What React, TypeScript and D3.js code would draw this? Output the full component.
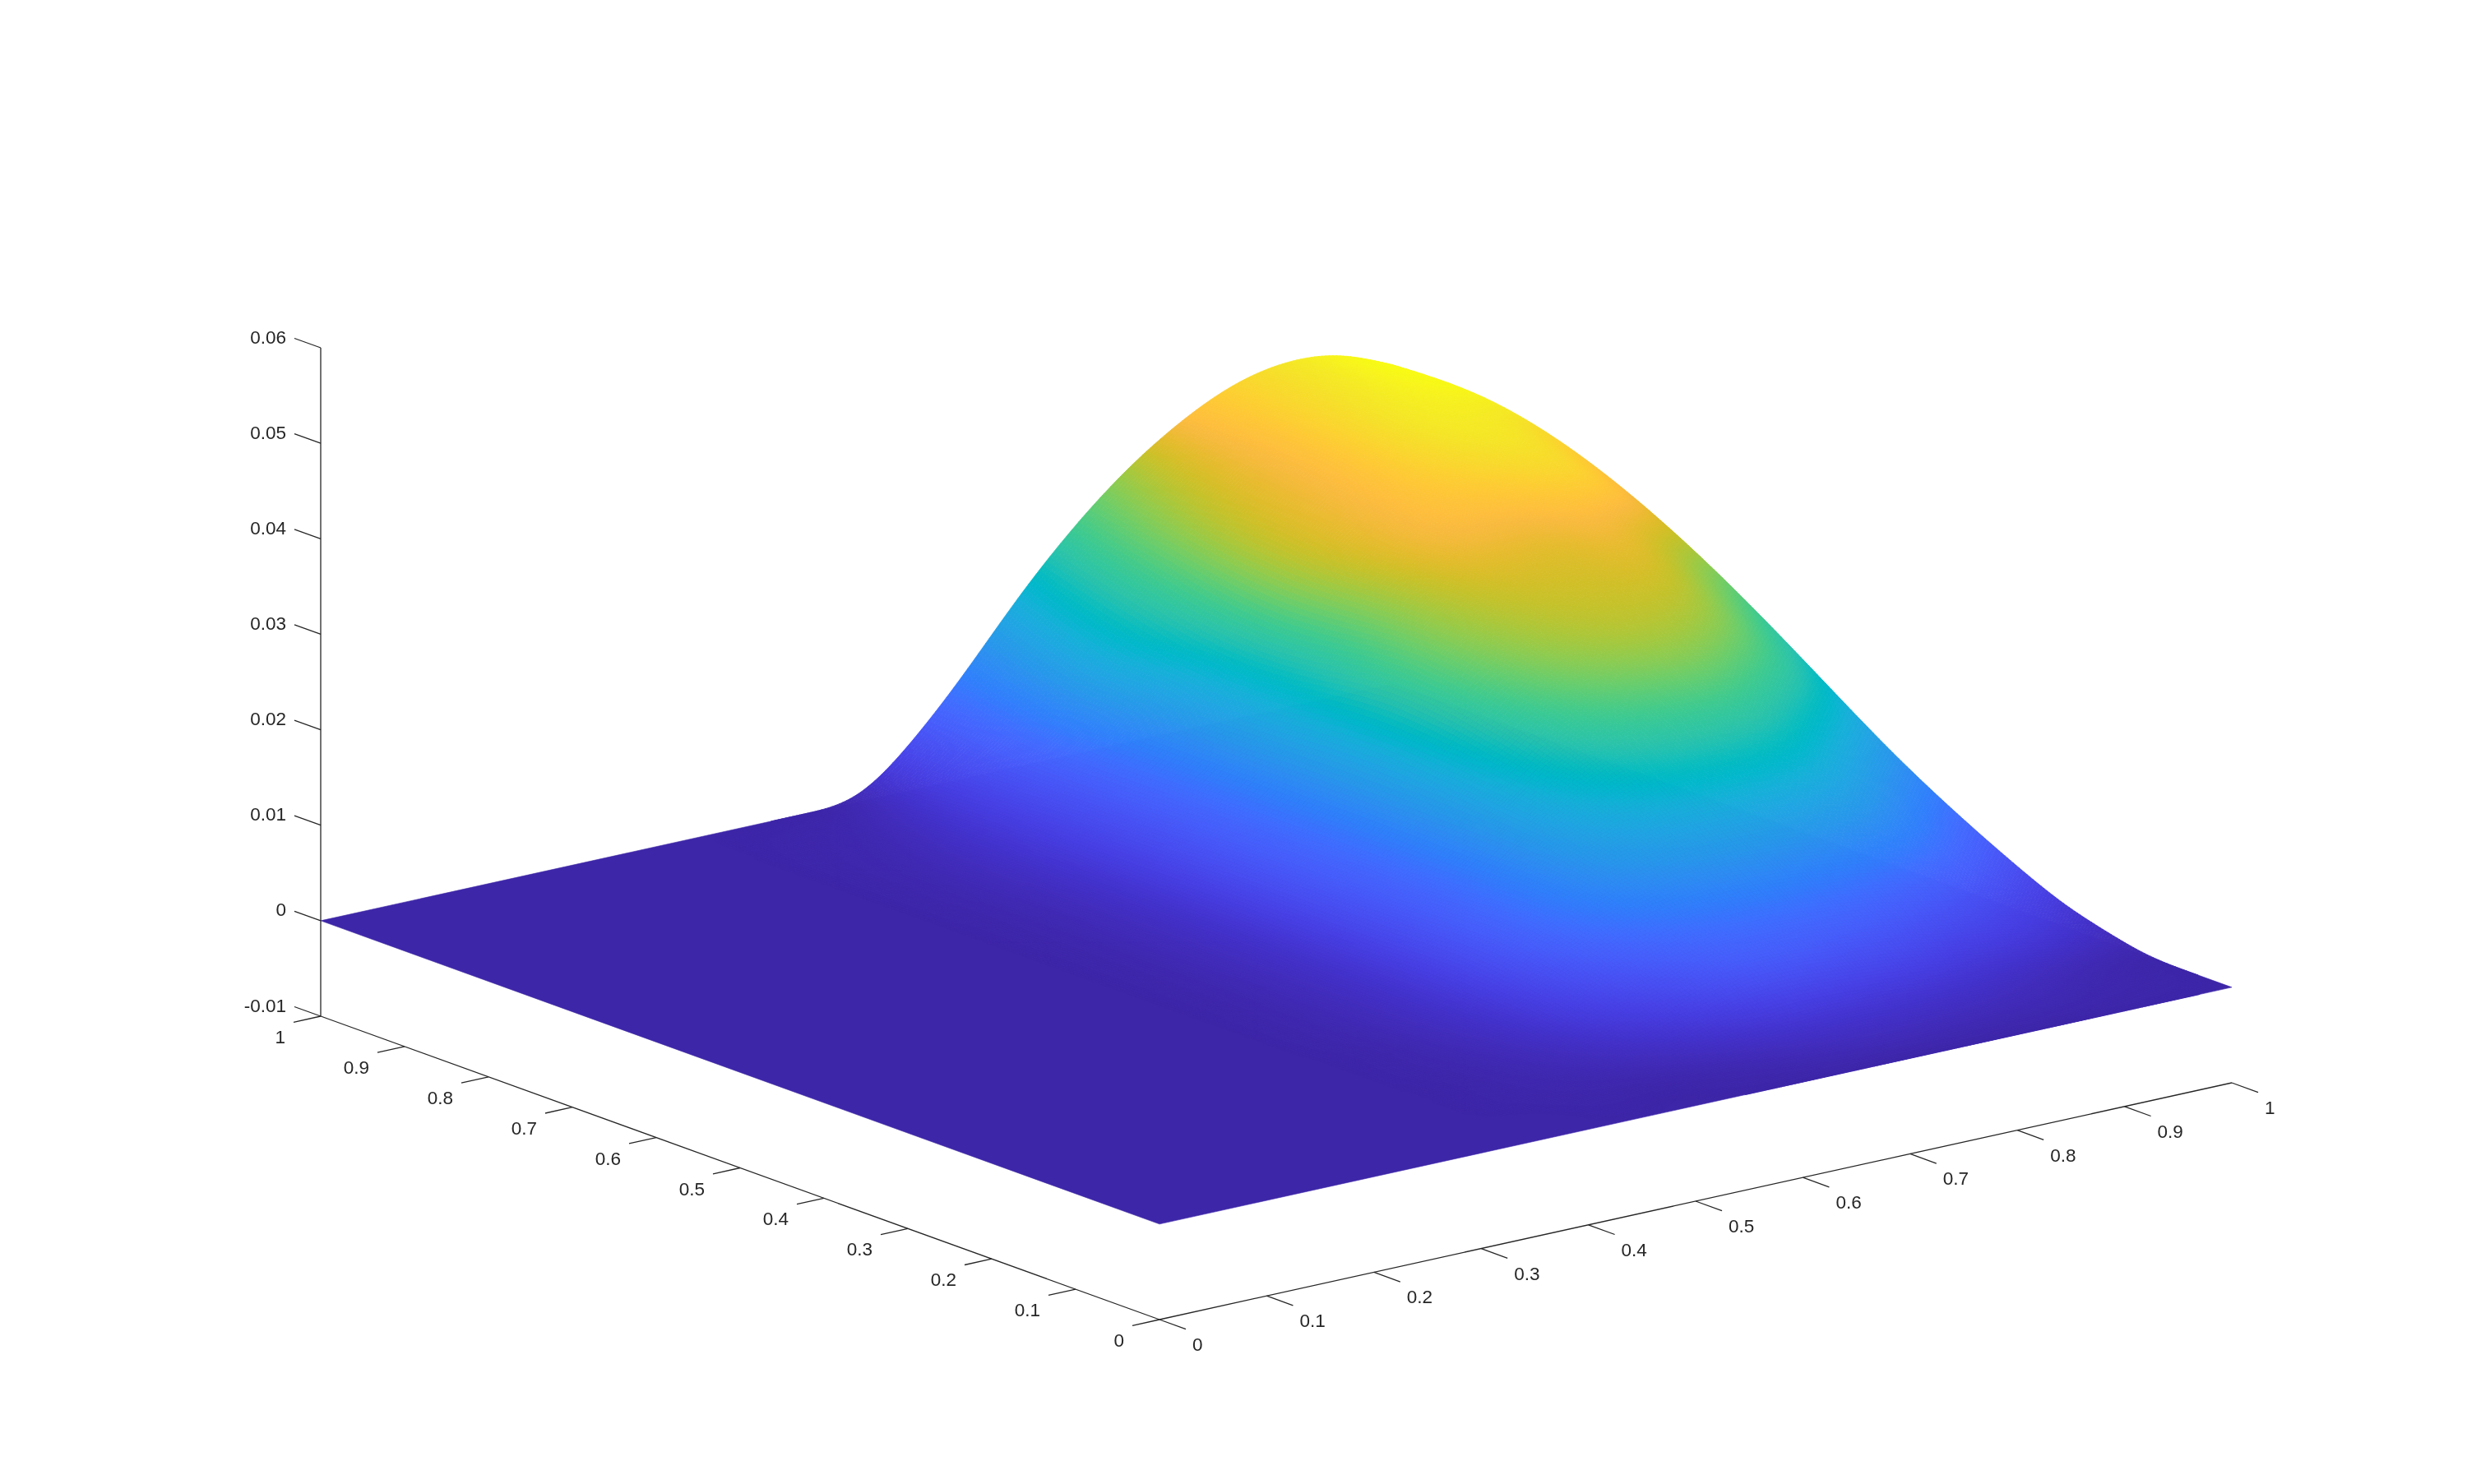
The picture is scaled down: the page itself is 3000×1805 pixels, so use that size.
import React, { useEffect, useRef } from "react";
import * as d3 from "d3";

// surface heights, rows are y, columns are x
const gridX = [0, 0.3, 0.35, 0.4, 0.45, 0.5, 0.55, 0.6, 0.65, 0.7, 0.75, 0.8, 0.85, 0.9, 0.95, 1];
const gridY = [0, 0.05, 0.1, 0.15, 0.2, 0.25, 0.3, 0.4, 0.5, 0.6, 0.7, 0.8, 0.9, 1];
const heights = [
  [0, 0, 0, 0, 0, 0, 0, 0, 0, 0, 0, 0, 0, 0, 0, 0],
  [0, 0, 0, 0, 0.0001, 0.0001, 0.0003, 0.0006, 0.001, 0.0012, 0.0011, 0.0009, 0.0007, 0.0004, 0.0002, 0],
  [0, 0, 0, 0.0001, 0.0003, 0.0006, 0.0012, 0.002, 0.0028, 0.003, 0.0028, 0.0024, 0.0018, 0.0012, 0.0006, 0.0002],
  [0, 0, 0, 0.0001, 0.0005, 0.0012, 0.0025, 0.004, 0.0056, 0.006, 0.0056, 0.005, 0.004, 0.0032, 0.0022, 0.0011],
  [0, 0, 0, 0.0002, 0.0007, 0.0018, 0.0038, 0.0058, 0.0074, 0.008, 0.008, 0.0075, 0.0066, 0.0054, 0.004, 0.0024],
  [0, 0, 0, 0.0002, 0.0009, 0.0022, 0.0048, 0.0075, 0.0095, 0.0105, 0.0108, 0.0104, 0.0097, 0.0084, 0.0065, 0.0043],
  [0, 0, 0, 0.0003, 0.001, 0.0025, 0.0055, 0.0085, 0.0112, 0.0128, 0.0135, 0.0136, 0.013, 0.0115, 0.009, 0.0065],
  [0, 0, 0, 0.0003, 0.001, 0.0025, 0.0055, 0.0085, 0.0128, 0.0165, 0.019, 0.02, 0.0198, 0.0178, 0.0148, 0.0115],
  [0, 0, 0, 0.0003, 0.001, 0.0025, 0.0055, 0.0085, 0.0135, 0.019, 0.023, 0.025, 0.0256, 0.0245, 0.0215, 0.0174],
  [0, 0, 0, 0.0003, 0.001, 0.0025, 0.0055, 0.0085, 0.0138, 0.0205, 0.0255, 0.0285, 0.03, 0.03, 0.0275, 0.0232],
  [0, 0, 0, 0.0003, 0.001, 0.0025, 0.0052, 0.0085, 0.0135, 0.0197, 0.0258, 0.0294, 0.0318, 0.0325, 0.0318, 0.0281],
  [0, 0, 0, 0.0003, 0.001, 0.0025, 0.005, 0.0085, 0.0135, 0.0195, 0.026, 0.0308, 0.0338, 0.035, 0.0345, 0.0317],
  [0, 0, 0, 0.0002, 0.0006, 0.002, 0.0048, 0.009, 0.0148, 0.0215, 0.0272, 0.0318, 0.0347, 0.036, 0.0357, 0.0335],
  [0, 0, 0, 0, 0, 0.0008, 0.005, 0.011, 0.0176, 0.0235, 0.0284, 0.0322, 0.0349, 0.0361, 0.0356, 0.0334],
];

// colour data for the rows y = 0.6 to 1, the top of the hill is coloured lower than it stands
const colorRows = [
  [0, 0, 0, 0.0003, 0.001, 0.0025, 0.0055, 0.0085, 0.0138, 0.0205, 0.025, 0.0272, 0.0278, 0.0283, 0.026, 0.0228],
  [0, 0, 0, 0.0003, 0.001, 0.0025, 0.0052, 0.0085, 0.0135, 0.0195, 0.0255, 0.0288, 0.0302, 0.0312, 0.0312, 0.0285],
  [0, 0, 0, 0.0003, 0.001, 0.0025, 0.005, 0.0085, 0.0135, 0.0195, 0.0262, 0.0293, 0.0318, 0.0335, 0.0335, 0.0318],
  [0, 0, 0, 0.0002, 0.0006, 0.002, 0.0048, 0.009, 0.0148, 0.0208, 0.026, 0.0293, 0.032, 0.0338, 0.035, 0.0348],
  [0, 0, 0, 0, 0, 0.0008, 0.0045, 0.0095, 0.015, 0.0205, 0.025, 0.0293, 0.0318, 0.0335, 0.035, 0.0356],
];
const colorValues = [...heights.slice(0, 9), ...colorRows];

const xTicks = [0, 0.1, 0.2, 0.3, 0.4, 0.5, 0.6, 0.7, 0.8, 0.9, 1];
const yTicks = [0, 0.1, 0.2, 0.3, 0.4, 0.5, 0.6, 0.7, 0.8, 0.9, 1];
const zTicks = [-0.01, 0, 0.01, 0.02, 0.03, 0.04, 0.05, 0.06];

// parula colormap
const parula = [
  [0.2422, 0.1504, 0.6603], [0.2504, 0.165, 0.7076], [0.2578, 0.1818, 0.7511], [0.2647, 0.1978, 0.7952],
  [0.2706, 0.2147, 0.8364], [0.2751, 0.2342, 0.871], [0.2783, 0.2559, 0.8991], [0.2803, 0.2782, 0.9221],
  [0.2813, 0.3006, 0.9414], [0.281, 0.3228, 0.9579], [0.2795, 0.3447, 0.9717], [0.276, 0.3667, 0.9829],
  [0.2699, 0.3892, 0.9906], [0.2602, 0.4123, 0.9952], [0.244, 0.4358, 0.9988], [0.2206, 0.4603, 0.9973],
  [0.1963, 0.4847, 0.9892], [0.1834, 0.5074, 0.9798], [0.1786, 0.5289, 0.9682], [0.1764, 0.5499, 0.952],
  [0.1687, 0.5703, 0.9359], [0.154, 0.5902, 0.9218], [0.146, 0.6091, 0.9079], [0.138, 0.6276, 0.8973],
  [0.1248, 0.6459, 0.8883], [0.1113, 0.6635, 0.8763], [0.0952, 0.6798, 0.8598], [0.0689, 0.6948, 0.8394],
  [0.0297, 0.7082, 0.8163], [0.0036, 0.7203, 0.7917], [0.0067, 0.7312, 0.766], [0.0433, 0.7411, 0.7394],
  [0.0964, 0.75, 0.712], [0.1408, 0.7584, 0.6842], [0.1717, 0.767, 0.6554], [0.1938, 0.7758, 0.6251],
  [0.2161, 0.7843, 0.5923], [0.247, 0.7918, 0.5567], [0.2906, 0.7973, 0.5188], [0.3406, 0.8008, 0.4789],
  [0.3909, 0.8029, 0.4354], [0.4456, 0.8024, 0.3909], [0.5044, 0.7993, 0.348], [0.5616, 0.7942, 0.3045],
  [0.6174, 0.7876, 0.2612], [0.672, 0.7793, 0.2227], [0.7242, 0.7698, 0.191], [0.7738, 0.7598, 0.1646],
  [0.8203, 0.7498, 0.1535], [0.8634, 0.7406, 0.1596], [0.9035, 0.733, 0.1774], [0.9393, 0.7288, 0.21],
  [0.9728, 0.7298, 0.2394], [0.9956, 0.7434, 0.2371], [0.997, 0.7659, 0.2199], [0.9952, 0.7893, 0.2028],
  [0.9892, 0.8136, 0.1885], [0.9786, 0.8386, 0.1766], [0.9676, 0.8639, 0.1643], [0.961, 0.889, 0.1537],
  [0.9597, 0.9135, 0.1423], [0.9628, 0.9373, 0.1265], [0.9691, 0.9606, 0.1064], [0.9769, 0.9839, 0.0805],
];

const zColorMax = 0.0355;
const steps = 300; // how finely each table cell is shaded
const flatColumns = 2; // first columns of the table are the flat part, keep the spline off them

// cubic spline through table entries, only used to shade between them like MATLAB's interp
const splineThrough = (xs: number[], vs: number[]) => {
  const n = xs.length;
  const d2 = new Array(n).fill(0);
  const u = new Array(n).fill(0);
  for (let i = 1; i < n - 1; i++) {
    const sig = (xs[i] - xs[i - 1]) / (xs[i + 1] - xs[i - 1]);
    const p = sig * d2[i - 1] + 2;
    d2[i] = (sig - 1) / p;
    const du = (vs[i + 1] - vs[i]) / (xs[i + 1] - xs[i]) - (vs[i] - vs[i - 1]) / (xs[i] - xs[i - 1]);
    u[i] = ((6 * du) / (xs[i + 1] - xs[i - 1]) - sig * u[i - 1]) / p;
  }
  for (let k = n - 2; k >= 0; k--) d2[k] = d2[k] * d2[k + 1] + u[k];
  return (t: number) => {
    if (t < xs[0]) return 0;
    const i = Math.min(d3.bisectRight(xs, t) - 1, n - 2);
    const h = xs[i + 1] - xs[i];
    const a = (xs[i + 1] - t) / h;
    const b = (t - xs[i]) / h;
    return a * vs[i] + b * vs[i + 1] + (((a ** 3 - a) * d2[i] + (b ** 3 - b) * d2[i + 1]) * h * h) / 6;
  };
};

const refine = (table: number[][], fineX: number[], fineY: number[]) => {
  const rows = table.map((row) => fineX.map(splineThrough(gridX.slice(flatColumns), row.slice(flatColumns))));
  const cols = fineX.map((_, ix) => fineY.map(splineThrough(gridY, rows.map((r) => r[ix]))));
  return fineY.map((_, iy) => fineX.map((_, ix) => Math.max(0, cols[ix][iy])));
};

const App = () => {
  const svgRef = useRef<SVGSVGElement>(null);

  useEffect(() => {
    const svg = d3.select(svgRef.current);
    svg.selectAll("*").remove();

    // the three box axes as seen on screen, all from the front corner
    const originX = 1410;
    const originY = 1605;
    const xAlongX = d3.scaleLinear().domain([0, 1]).range([0, 1304]);
    const xAlongY = d3.scaleLinear().domain([0, 1]).range([0, -288]);
    const yAlongX = d3.scaleLinear().domain([0, 1]).range([0, -1020]);
    const yAlongY = d3.scaleLinear().domain([0, 1]).range([0, -369]);
    const zAlongY = d3.scaleLinear().domain([-0.01, 0.06]).range([0, -813]);
    const project = (x: number, y: number, z: number): [number, number] => [
      originX + xAlongX(x) + yAlongX(y),
      originY + xAlongY(x) + yAlongY(y) + zAlongY(z),
    ];

    const colorOf = d3
      .scaleLinear<string>()
      .domain(parula.map((_, i) => i / (parula.length - 1)))
      .range(parula.map(([r, g, b]) => d3.rgb(r * 255, g * 255, b * 255).formatRgb()))
      .clamp(true);

    const line = d3.line();

    // axes
    const axis = svg.append("g").attr("stroke", "#262626").attr("stroke-width", 1.3).attr("fill", "none");
    axis.append("path").attr("d", line([project(0, 1, -0.01), project(0, 1, 0.06)]));
    axis.append("path").attr("d", line([project(0, 1, -0.01), project(0, 0, -0.01)]));
    axis.append("path").attr("d", line([project(0, 0, -0.01), project(1, 0, -0.01)]));

    const label = (text: string, x: number, y: number, anchor: string) =>
      svg
        .append("text")
        .attr("x", x)
        .attr("y", y)
        .attr("text-anchor", anchor)
        .attr("font-family", "Liberation Sans")
        .attr("font-size", 22.5)
        .attr("fill", "#262626")
        .text(text);

    xTicks.forEach((t) => {
      const [px, py] = project(t, 0, -0.01);
      axis.append("path").attr("d", line([[px, py], [px + 32, py + 11.7]]));
      label(String(t), px + 40, py + 38, "start");
    });
    yTicks.forEach((t) => {
      const [px, py] = project(0, t, -0.01);
      axis.append("path").attr("d", line([[px, py], [px - 33, py + 7.3]]));
      label(String(t), px - 43, py + 33, "end");
    });
    zTicks.forEach((t) => {
      const [px, py] = project(0, 1, t);
      axis.append("path").attr("d", line([[px, py], [px - 32, py - 11.5]]));
      label(String(t), px - 42, py - 5.5, "end");
    });

    // flat floor of the surface
    svg
      .append("path")
      .attr("d", line([project(0, 0, 0), project(1, 0, 0), project(1, 1, 0), project(0, 1, 0)]) + "Z")
      .attr("fill", colorOf(0))
      .attr("stroke", colorOf(0))
      .attr("stroke-width", 0.6);

    // shade the table finely, back cells first so the front ones cover them
    const fineX = d3.range(steps + 1).map((i) => i / steps);
    const fineY = d3.range(steps + 1).map((i) => i / steps);
    const fine = refine(heights, fineX, fineY);
    const fineColor = refine(colorValues, fineX, fineY);

    const surface = svg.append("g").attr("stroke-width", 0.8);
    for (let iy = steps - 1; iy >= 0; iy--) {
      for (let ix = steps - 1; ix >= 0; ix--) {
        const z00 = fine[iy][ix];
        const z10 = fine[iy][ix + 1];
        const z01 = fine[iy + 1][ix];
        const z11 = fine[iy + 1][ix + 1];
        if (z00 + z10 + z01 + z11 < 2e-5) continue;
        const mean =
          (fineColor[iy][ix] + fineColor[iy][ix + 1] + fineColor[iy + 1][ix] + fineColor[iy + 1][ix + 1]) / 4;
        const c = colorOf(mean / zColorMax);
        surface
          .append("path")
          .attr(
            "d",
            line([
              project(fineX[ix], fineY[iy], z00),
              project(fineX[ix + 1], fineY[iy], z10),
              project(fineX[ix + 1], fineY[iy + 1], z11),
              project(fineX[ix], fineY[iy + 1], z01),
            ]) + "Z"
          )
          .attr("fill", c)
          .attr("stroke", c);
      }
    }
  }, []);

  return (
    <svg
      ref={svgRef}
      width={3000}
      height={1805}
      style={{ position: "absolute", left: 0, top: 0, willChange: "transform" }}
    />
  );
};

export default App;
